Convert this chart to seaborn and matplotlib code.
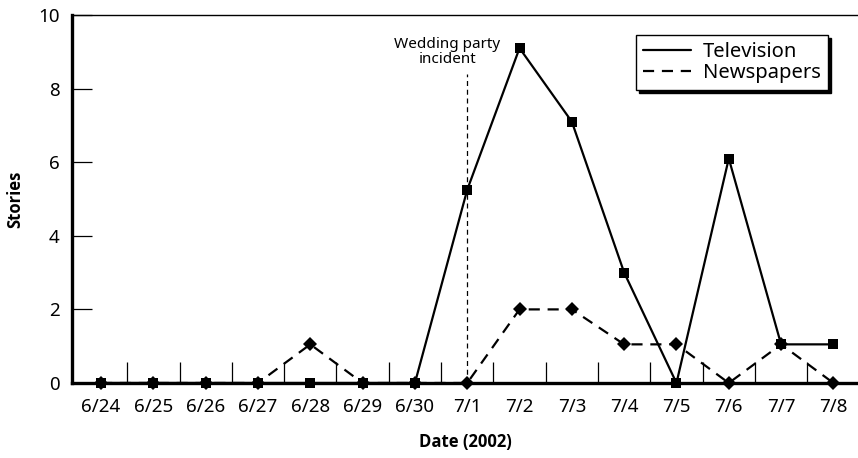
import matplotlib
matplotlib.use("Agg")
import matplotlib.pyplot as plt
import seaborn as sns
import numpy as np
import pandas as pd

dates = ['6/24', '6/25', '6/26', '6/27', '6/28', '6/29', '6/30',
         '7/1', '7/2', '7/3', '7/4', '7/5', '7/6', '7/7', '7/8']

television = [0, 0, 0, 0, 0, 0, 0, 5.25, 9.1, 7.1, 3, 0, 6.1, 1.05, 1.05]
newspapers = [0, 0, 0, 0, 1.05, 0, 0, 0, 2, 2, 1.05, 1.05, 0, 1.05, 0]

event_date = '7/1'
event_label = 'Wedding party\nincident'

sns.set_style('white')
plt.rcParams['font.family'] = ['Noto Sans', 'DejaVu Sans']
plt.rcParams['text.color'] = 'black'
plt.rcParams['xtick.color'] = 'black'
plt.rcParams['ytick.color'] = 'black'
plt.rcParams['axes.labelcolor'] = 'black'

df = pd.DataFrame({
    'pos': np.arange(len(dates)),
    'Television': television,
    'Newspapers': newspapers
})

fig = plt.figure(figsize=(8.58, 4.58), dpi=100)
ax = fig.add_axes([72 / 858, 75 / 458, 786 / 858, 368 / 458])

# -------------------------
# Lines
# -------------------------

sns.lineplot(
    x='pos',
    y='Television',
    data=df,
    ax=ax,
    color='black',
    linewidth=1.6,
    marker='s',
    markersize=6.5,
    markeredgewidth=0,
    clip_on=False,
    label='Television',
    zorder=4
)

sns.lineplot(
    x='pos',
    y='Newspapers',
    data=df,
    ax=ax,
    color='black',
    linewidth=1.6,
    linestyle=(0, (5, 3.5)),
    marker='D',
    markersize=7,
    markeredgewidth=0,
    clip_on=False,
    label='Newspapers',
    zorder=4
)

# event marker
ev = dates.index(event_date)
ax.plot([ev, ev], [0, 8.4], color='black', linewidth=0.9,
        linestyle=(0, (4, 3)), zorder=2)
ax.text(ev - 0.38, 8.6, event_label, ha='center', va='bottom',
        fontsize=11, linespacing=1.0)

# -------------------------
# Axes styling
# -------------------------

ax.set_xlim(-0.555, 14.47)
ax.set_ylim(0, 10)

ax.set_xticks(df['pos'])
ax.set_xticklabels(dates)
ax.set_xticks(np.arange(0.5, len(dates) - 1, 1), minor=True)
ax.tick_params(axis='x', which='both', bottom=True)
ax.tick_params(axis='x', which='major', length=0, pad=11, labelsize=13.5)
ax.tick_params(axis='x', which='minor', direction='in', length=15,
               width=0.9, color='black')

ax.set_yticks(np.arange(0, 11, 2))
ax.tick_params(axis='y', which='major', left=True, direction='in',
               length=14.5, width=0.9, color='black', pad=9,
               labelsize=13.5)

for side in ['left', 'bottom']:
    ax.spines[side].set_linewidth(2.4)
    ax.spines[side].set_color('black')
ax.spines['top'].set_linewidth(1.0)
ax.spines['top'].set_color('black')
ax.spines['right'].set_visible(False)

ax.set_xlabel('Date (2002)', fontsize=12, fontweight='bold',
              family=['Open Sans', 'DejaVu Sans'], labelpad=12)
ax.set_ylabel('Stories', fontsize=12, fontweight='bold',
              family=['Open Sans', 'DejaVu Sans'], labelpad=10)

leg = ax.legend(
    loc='upper right',
    bbox_to_anchor=(0.962, 0.946),
    frameon=True,
    fancybox=False,
    shadow={'color': 'black', 'alpha': 1},
    edgecolor='black',
    fontsize=14.5,
    handlelength=2.4,
    handletextpad=0.6,
    borderpad=0.35,
    labelspacing=0.05,
    borderaxespad=0
)
leg.get_frame().set_linewidth(1.0)
for h in leg.get_lines():
    h.set_marker('')
    h.set_linewidth(1.6)

plt.savefig('out.png', dpi=100)
plt.close()
